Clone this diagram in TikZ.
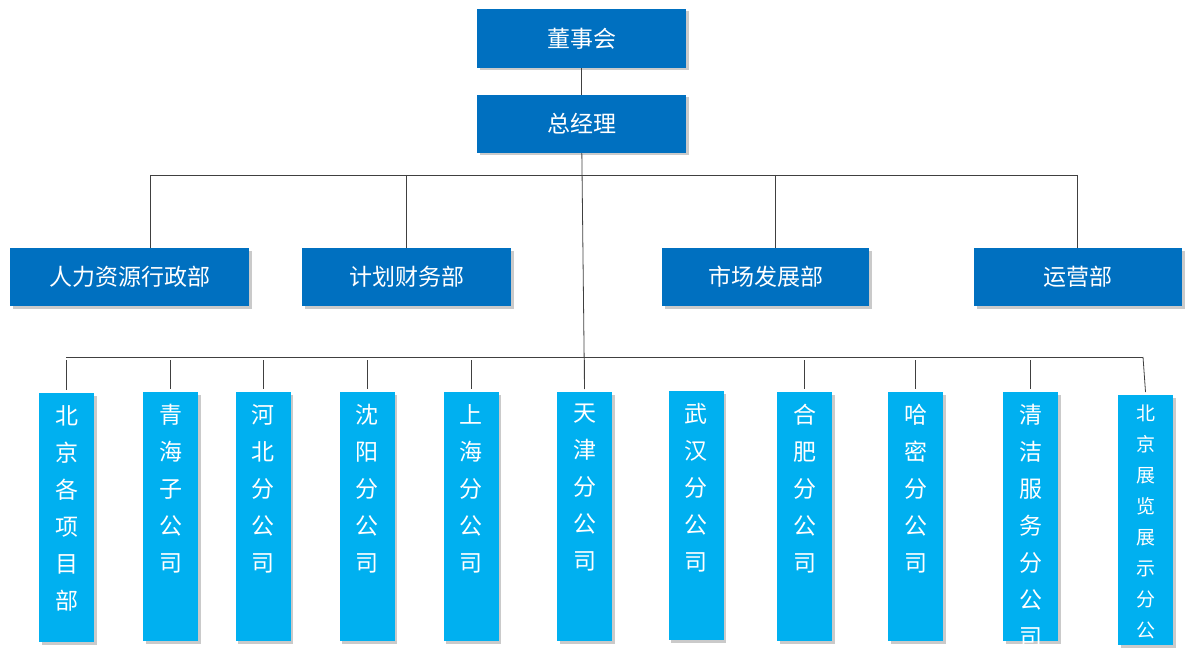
\documentclass[tikz,border=0pt]{standalone}
\usepackage{fontspec}
\setmainfont{Noto Sans CJK SC}
\usetikzlibrary{shadows,positioning}
\tikzset{
  box/.style={fill=dark, text=white, font=\fontsize{23}{26}\selectfont, inner sep=0pt,
    drop shadow={shadow xshift=2.5pt, shadow yshift=-2.5pt, fill=black!35, opacity=.6}},
  sub/.style={fill=light, inner sep=0pt, minimum width=55pt, anchor=north,
    drop shadow={shadow xshift=2.5pt, shadow yshift=-2.5pt, fill=black!35, opacity=.6}},
  subtxt/.style={text=white, align=center, anchor=north, inner sep=0pt,
    font=\fontsize{23}{37}\selectfont},
  link/.style={black!75, line width=.8pt}
}
\definecolor{dark}{HTML}{0070C0}
\definecolor{light}{HTML}{00B0F0}
\begin{document}
\begin{tikzpicture}[x=1pt,y=1pt]
\useasboundingbox (0,0) rectangle (1199,-671);
% top
\node[box, minimum width=209pt, minimum height=59pt] (board) at (581.5,-38.5) {董事会};
\node[box, minimum width=209pt, minimum height=58pt] (gm) at (581.5,-124) {总经理};
% departments
\node[box, minimum width=239pt, minimum height=58pt] (hr) at (129.5,-277) {人力资源行政部};
\node[box, minimum width=209pt, minimum height=58pt] (fin) at (406.5,-277) {计划财务部};
\node[box, minimum width=207pt, minimum height=58pt] (mkt) at (765.5,-277) {市场发展部};
\node[box, minimum width=208pt, minimum height=58pt] (ops) at (1078,-277) {运营部};
\draw[link] (board) -- (gm);
\coordinate (bus1) at (583,-175);
\draw[link] (150,-175) coordinate (b1l) -- (1077,-175) coordinate (b1r);
\draw[link] (b1l) -- (b1l |- hr.north);
\draw[link] (406,-175) coordinate (b1f) -- (b1f |- fin.north);
\draw[link] (775,-175) coordinate (b1m) -- (b1m |- mkt.north);
\draw[link] (b1r) -- (b1r |- ops.north);
% branches
\draw[link] (66,-357) coordinate (b2l) -- (1143,-357) coordinate (b2r);
\foreach \n/\x/\top/\bot/\t/\tick in {
  bj/66.5/393/642/{北\\京\\各\\项\\目\\部}/1,
  qh/170.5/392/641/{青\\海\\子\\公\\司}/1,
  hb/263/392/641/{河\\北\\分\\公\\司}/1,
  sy/367/392/641/{沈\\阳\\分\\公\\司}/1,
  sh/471/392/641/{上\\海\\分\\公\\司}/1,
  tj/584.5/392/641/{天\\津\\分\\公\\司}/1,
  wh/696/391/640/{武\\汉\\分\\公\\司}/0,
  hf/804.5/392/641/{合\\肥\\分\\公\\司}/1,
  hm/915.5/392/641/{哈\\密\\分\\公\\司}/1,
  qj/1030.5/392/641/{清\\洁\\服\\务\\分\\公\\司}/1}{
  \pgfmathsetmacro\h{\bot-\top}
  \node[sub, minimum height=\h pt] (\n) at (\x,-\top) {};
  \node[subtxt] at ([yshift=-12pt]\n.north) {\t};
  \ifnum\tick=1 \draw[link] (\x,-360) -- ([yshift=3pt]\n.north); \fi
}
\node[sub, minimum height=250pt] (zl) at (1145.5,-395) {};
\node[subtxt, font=\fontsize{19}{31}\selectfont] at ([yshift=-10pt]zl.north) {北\\京\\展\\览\\展\\示\\分\\公\\司};
\draw[link] (b2r) -- ([yshift=3pt]zl.north);
\draw[link] (gm) -- ([yshift=3pt]tj.north);
\end{tikzpicture}
\end{document}
